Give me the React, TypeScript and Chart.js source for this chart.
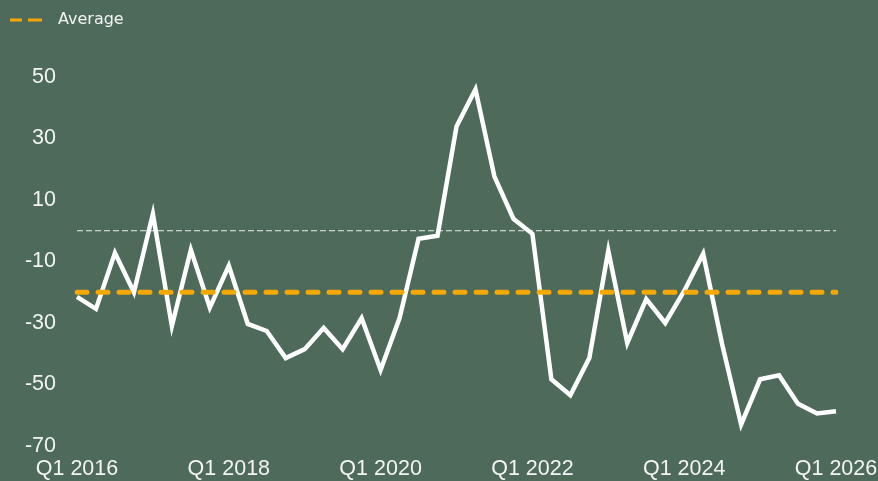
import React, { useEffect, useRef } from "react";
import { Chart, registerables } from "chart.js";

Chart.register(...registerables);

const firstYear = 2016;
const lastYear = 2026;
const categories: string[] = [];
for (let y = firstYear; y <= lastYear; y++) {
  for (let q = 1; q <= 4; q++) {
    if (y === lastYear && q > 1) break;
    categories.push(`Q${q} ${y}`);
  }
}

const seriesValues = [
  -21.5, -25.4, -7.2, -20, 5.5, -31, -6.2, -25, -11.4, -30.3,
  -32.6, -41.4, -38.5, -31.6, -38.5, -28.4, -45.3, -28.4, -2.6, -1.6,
  33.9, 46, 17.6, 3.9, -1, -48.3, -53.5, -41.4, -6.5, -36.5,
  -22.2, -30, -19.6, -7.5, -36.9, -63, -48.3, -47, -56.3, -59.4, -58.7,
];

const averageValue = -20;
const zeroValue = 0;
const yTickMin = -70;
const yTickMax = 50;
const yTickStep = 20;

const BG = "#4d6a5b";
const ORANGE = "#f5a800";
const TEXT = "#f4f4f4";

export default function App() {
  const ref = useRef<HTMLCanvasElement | null>(null);

  useEffect(() => {
    document.body.style.margin = "0";
    document.body.style.background = BG;
    const canvas = ref.current;
    if (!canvas) return;
    const legendGap = {
      id: "legendGap",
      beforeInit(chart: any) {
        const lg = chart.legend;
        if (lg) {
          const fit = lg.fit;
          lg.fit = function () {
            fit.call(this);
            this.height += 39;
          };
        }
      },
    };
    const chart = new Chart(canvas, {
      type: "line",
      data: {
        labels: categories,
        datasets: [
          {
            label: "Series",
            data: seriesValues,
            borderColor: "#ffffff",
            borderWidth: 4.5,
            pointRadius: 0,
            tension: 0,
            fill: false,
            order: 1,
          },
          {
            label: "Average",
            data: categories.map(() => averageValue),
            borderColor: ORANGE,
            borderWidth: 5,
            borderDash: [10, 11],
            borderCapStyle: "round",
            pointRadius: 0,
            fill: false,
            order: 0,
          },
          {
            label: "Zero",
            data: categories.map(() => zeroValue),
            borderColor: "rgba(245,248,245,0.95)",
            borderWidth: 1,
            borderDash: [6, 3],
            pointRadius: 0,
            fill: false,
            order: 2,
          },
        ],
      },
      options: {
        animation: false,
        responsive: true,
        maintainAspectRatio: false,
        layout: { padding: { top: 2, left: 0, right: 0, bottom: 0 } },
        plugins: {
          tooltip: { enabled: false },
          legend: {
            display: true,
            position: "top",
            align: "start",
            labels: {
              usePointStyle: true,
              pointStyleWidth: 40,
              boxHeight: 16,
              padding: 10,
              color: TEXT,
              font: { family: "'DejaVu Sans', sans-serif", size: 16 },
              generateLabels: () => [
                {
                  text: "Average",
                  fillStyle: "rgba(0,0,0,0)",
                  strokeStyle: ORANGE,
                  lineWidth: 3,
                  lineDash: [12, 6, 14, 60],
                  lineCap: "butt",
                  pointStyle: "line",
                  hidden: false,
                  datasetIndex: 1,
                  fontColor: TEXT,
                } as any,
              ],
            },
          },
        },
        scales: {
          x: {
            type: "category",
            offset: false,
            grid: { display: false, drawTicks: false },
            border: { display: false },
            afterFit: (s: any) => {
              s.height = 35;
              s.paddingRight = 42;
              s.paddingLeft = 0;
            },
            ticks: {
              autoSkip: false,
              maxRotation: 0,
              minRotation: 0,
              padding: 10,
              color: TEXT,
              font: { family: "'Liberation Sans', Arial, sans-serif", size: 21.5 },
              callback: (_v: any, i: number) => (i % 8 === 0 ? categories[i] : ""),
            },
          },
          y: {
            min: yTickMin,
            max: yTickMax,
            grid: { display: false, drawTicks: false },
            border: { display: false },
            afterFit: (s: any) => {
              s.width = 77;
            },
            ticks: {
              stepSize: yTickStep,
              padding: 21,
              color: TEXT,
              font: { family: "'Liberation Sans', Arial, sans-serif", size: 21.5 },
            },
          },
        },
      },
      plugins: [legendGap],
    });
    return () => chart.destroy();
  }, []);

  return (
    <div style={{ width: 878, height: 481, background: BG, position: "relative" }}>
      <canvas ref={ref} />
    </div>
  );
}
